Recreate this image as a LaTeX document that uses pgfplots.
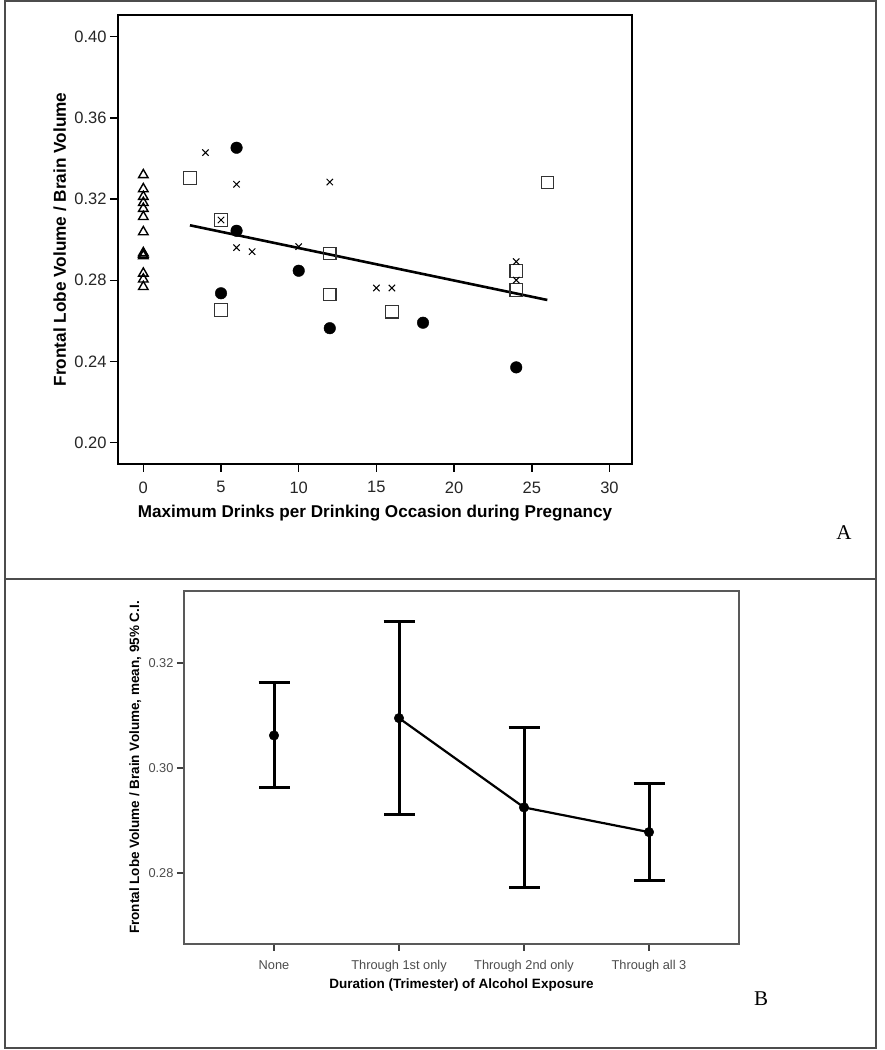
\documentclass[border=0pt]{standalone}
\usepackage{pgfplots}
\pgfplotsset{compat=1.18}
\usepackage{fontspec}
\setmainfont{Liberation Sans}
\newfontfamily\seriffont{Liberation Serif}

\pgfplotstableread{
x y
0 0.3319
0 0.3250
0 0.3212
0 0.3182
0 0.3153
0 0.3113
0 0.3038
0 0.2920
0 0.2928
0 0.2935
0 0.2834
0 0.2805
0 0.2768
}\tri

\pgfplotstableread{
x y
6 0.3453
6 0.3044
10 0.2847
5 0.2736
12 0.2564
18 0.2591
24 0.2371
}\circ

\pgfplotstableread{
x y
3 0.3304
5 0.3097
12 0.2931
12 0.2731
5 0.2654
26 0.3281
16 0.2645
24 0.2846
24 0.2752
}\sq

\pgfplotstableread{
x y
4 0.3429
6 0.3273
12 0.3284
5 0.3097
6 0.2961
7 0.2941
10 0.2966
15 0.2762
16 0.2762
24 0.2892
24 0.2801
}\xm

\begin{document}
\begin{tikzpicture}[x=1pt,y=1pt]
\useasboundingbox (0,0) rectangle (884,1050);
\fill[white] (0,0) rectangle (884,1050);
\draw[line width=1.5pt, black!70] (5,2) rectangle (876,1049);
\draw[line width=1.5pt, black!70] (5,471) -- (876,471);
\node[font=\seriffont\fontsize{21}{24}\selectfont] at (844,517) {A};
\node[font=\seriffont\fontsize{21}{24}\selectfont] at (761,51) {B};

\begin{axis}[
  at={(118pt,586pt)}, anchor=south west, scale only axis,
  width=514pt, height=449pt,
  xmin=-1.63, xmax=31.45, ymin=0.1895, ymax=0.4107,
  axis line style={line width=1.6pt, black},
  tick pos=left, tick align=outside,
  major tick length=8pt,
  tick style={line width=1.5pt, black},
  xtick={0,5,...,30},
  ytick={0.20,0.24,0.28,0.32,0.36,0.40},
  scaled y ticks=false,
  yticklabel style={/pgf/number format/.cd, fixed, fixed zerofill, precision=2},
  xticklabel style={yshift=-6pt},
  tick label style={font=\fontsize{16.5}{18}\selectfont, text=black!85, /pgf/number format/assume math mode=true},
  xlabel={Maximum Drinks per Drinking Occasion during Pregnancy},
  ylabel={Frontal Lobe Volume / Brain Volume},
  xlabel style={font=\bfseries\fontsize{17.1}{19}\selectfont, at={(axis description cs:0.5,-0.109)}, anchor=center},
  ylabel style={font=\bfseries\fontsize{17.2}{19}\selectfont, at={(axis description cs:-0.113,0.5)}, anchor=center},
  clip=false,
]
\addplot[only marks, mark=triangle, mark size=5.5pt, mark options={line width=1.4pt, black}] table {\tri};
\addplot[only marks, mark=*, mark size=5.8pt, mark options={black, fill=black}] table {\circ};
\addplot[only marks, mark=square, mark size=6.2pt, mark options={line width=1.1pt, black!80}] table {\sq};
\addplot[only marks, mark=x, mark size=4.5pt, mark options={line width=1pt, black}] table {\xm};
\addplot[line width=2.6pt, black] coordinates {(3,0.3071) (26,0.2703)};
\end{axis}

\begin{axis}[
  at={(184pt,106pt)}, anchor=south west, scale only axis,
  width=555pt, height=353pt,
  xmin=-0.72, xmax=3.72, ymin=0.2665, ymax=0.3337,
  axis line style={line width=1.6pt, black!65},
  tick pos=left, tick align=outside,
  major tick length=7pt,
  tick style={line width=1.2pt, black!75},
  xtick={0,1,2,3},
  xticklabels={None, Through 1st only, Through 2nd only, Through all 3},
  ytick={0.28,0.30,0.32},
  scaled y ticks=false,
  yticklabel style={/pgf/number format/.cd, fixed, fixed zerofill, precision=2},
  xticklabel style={yshift=-6pt},
  tick label style={font=\fontsize{12.8}{14}\selectfont, text=black!70, /pgf/number format/assume math mode=true},
  xlabel={Duration (Trimester) of Alcohol Exposure},
  ylabel={Frontal Lobe Volume / Brain Volume, mean, 95\% C.I.},
  xlabel style={font=\bfseries\fontsize{13.5}{15}\selectfont, at={(axis description cs:0.5,-0.116)}, anchor=center},
  ylabel style={font=\bfseries\fontsize{13.5}{15}\selectfont, at={(axis description cs:-0.088,0.5)}, anchor=center},
  clip=false,
]
\addplot[line width=2.2pt, black] coordinates {(1,0.3095) (2,0.2925) (3,0.2878)};
\addplot[only marks, mark=*, mark size=4.8pt, black,
  error bars/.cd, y dir=both, y explicit,
  error bar style={line width=3pt, black},
  error mark options={rotate=90, mark size=15.5pt, line width=3pt, black}]
  coordinates {
   (0,0.3062) +- (0,0.0100)
   (1,0.3095) +- (0,0.0183)
   (2,0.2925) +- (0,0.0152)
   (3,0.2878) +- (0,0.0092)
  };
\end{axis}
\end{tikzpicture}
\end{document}
